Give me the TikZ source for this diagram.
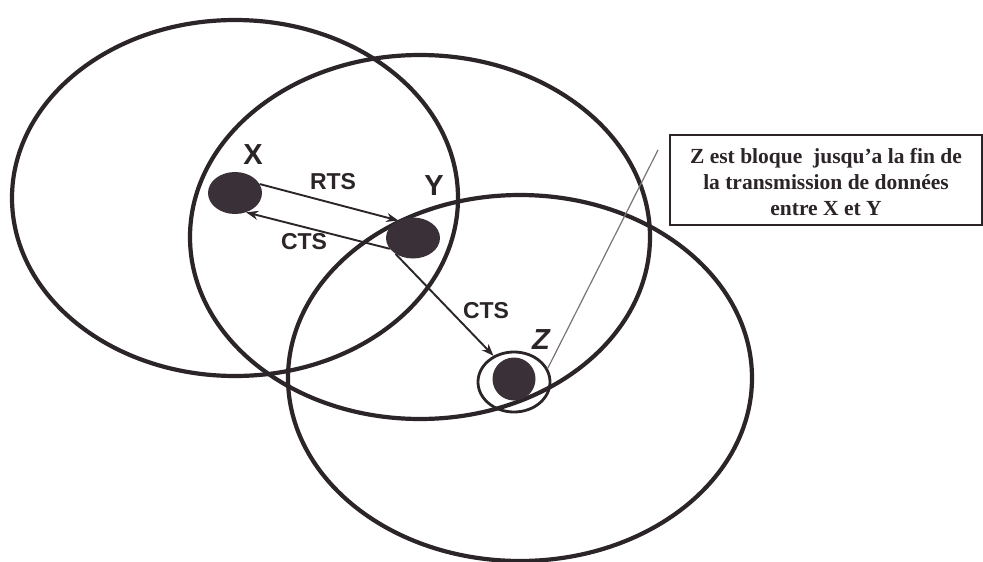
\documentclass[tikz,border=0pt]{standalone}
\usepackage{fontspec}
\setmainfont{Liberation Serif}
\newfontfamily\labfont{Liberation Sans}
\usetikzlibrary{shapes.geometric,arrows.meta}
\definecolor{ink}{HTML}{2B2428}
\definecolor{dotc}{HTML}{3A3038}
\definecolor{thinc}{HTML}{7A7478}
\begin{document}
\begin{tikzpicture}[x=1pt,y=-1pt,
  cover/.style={draw=ink,line width=4.2pt},
  station/.style={ellipse,fill=dotc,inner sep=0pt},
  msg/.style={draw=ink,line width=1.9pt,-{Stealth[length=12pt,width=9pt]}},
  lbl/.style={font=\labfont\bfseries\fontsize{23}{26}\selectfont,text=ink,inner sep=0pt},
  big/.style={font=\labfont\bfseries\fontsize{29}{32}\selectfont,text=ink,inner sep=0pt}]
\useasboundingbox[fill=white] (0,0) rectangle (983,562);
% coverage ranges
\draw[cover] (235,198) ellipse [x radius=223pt, y radius=178pt];
\draw[cover] (420,237) ellipse [x radius=230pt, y radius=182pt];
\draw[cover] (520,378) ellipse [x radius=232pt, y radius=183pt];
% stations
\node[station,minimum width=54pt,minimum height=42pt] (X) at (235,193) {};
\node[station,minimum width=54pt,minimum height=41pt] (Y) at (413,238) {};
\node[ellipse,draw=ink,line width=2.8pt,minimum width=72pt,minimum height=60pt,inner sep=0pt] (Zring) at (514,382) {};
\node[station,minimum width=43pt,minimum height=43pt] (Z) at (514,379) {};
% labels
\node[big] (lx) at (253,155) {X};
\node[big] (ly) at (434,186) {Y};
\node[big,font=\labfont\bfseries\itshape\fontsize{29}{32}\selectfont] (lz) at (541,340) {Z};
\node[lbl] (rts) at (333,182) {RTS};
\node[lbl] (cts1) at (304,242) {CTS};
\node[lbl] (cts2) at (486,311) {CTS};
% messages
\draw[msg] (X.20) -- (Y.130);
\draw[msg] (Y.205) -- (X.300);
\draw[msg] (Y.222) -- (Zring.128);
% note
\node[draw=ink,line width=1.8pt,minimum width=312pt,minimum height=90pt,inner sep=0pt] (note) at (826,180) {};
\node[align=center,font=\bfseries\fontsize{21.5}{26}\selectfont,text=ink] (notetext) at (826,182)
  {Z est bloque \ jusqu'a la fin de\\la transmission de données\\entre X et Y};
\coordinate (tip) at (658,150);
\draw[draw=thinc,line width=1.2pt] (tip) -- (Zring.22);
\end{tikzpicture}
\end{document}
